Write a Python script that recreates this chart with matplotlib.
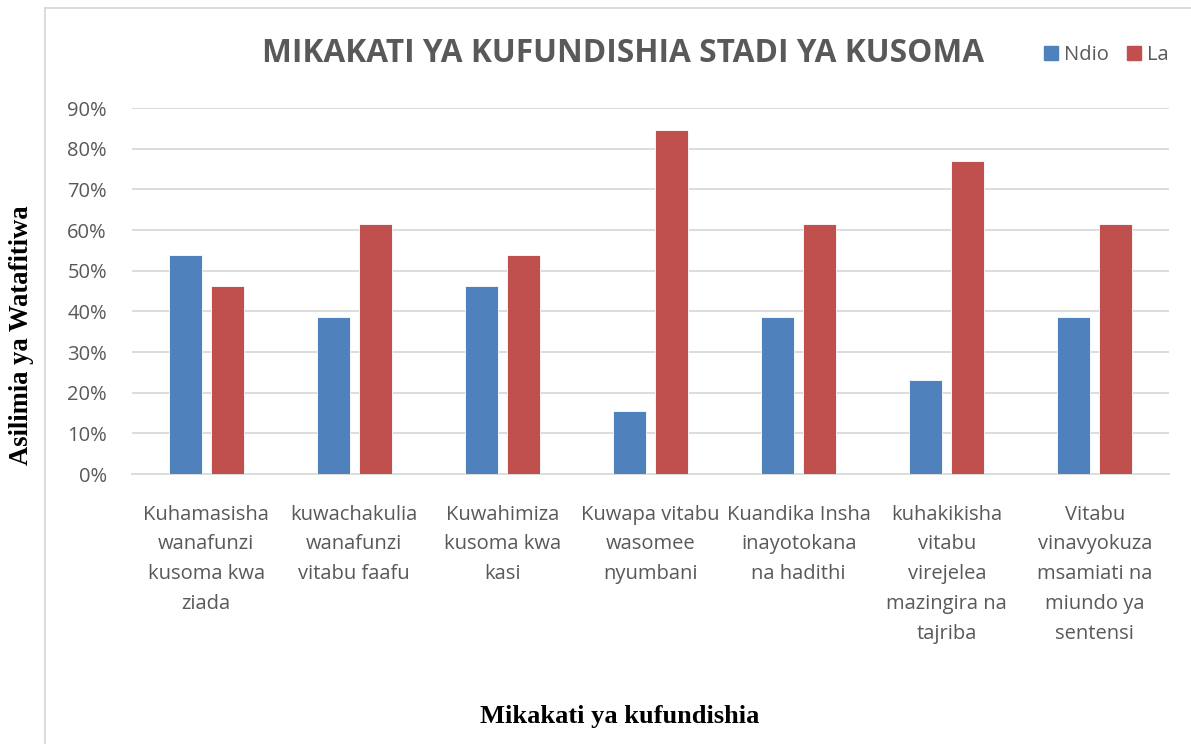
import matplotlib
matplotlib.use("Agg")
import matplotlib.pyplot as plt
import numpy as np
from matplotlib.patches import Patch
from matplotlib.lines import Line2D

categories = [
    "Kuhamasisha\nwanafunzi\nkusoma kwa\nziada",
    "kuwachakulia\nwanafunzi\nvitabu faafu",
    "Kuwahimiza\nkusoma kwa\nkasi",
    "Kuwapa vitabu\nwasomee\nnyumbani",
    "Kuandika Insha\ninayotokana\nna hadithi",
    "kuhakikisha\nvitabu\nvirejelea\nmazingira na\ntajriba",
    "Vitabu\nvinavyokuza\nmsamiati na\nmiundo ya\nsentensi",
]
ndio = [53.8, 38.5, 46.2, 15.4, 38.5, 23.1, 38.5]
la = [46.2, 61.5, 53.8, 84.6, 61.5, 76.9, 61.5]
yticks = [0, 10, 20, 30, 40, 50, 60, 70, 80, 90]
ytick_labels = [f"{v}%" for v in yticks]

BLUE = "#4F81BD"
RED = "#C0504D"
GREY = "#595959"
SANS = ["Open Sans", "DejaVu Sans"]
SERIF = ["Liberation Serif", "DejaVu Serif"]

fig = plt.figure(figsize=(11.91, 7.44), dpi=100)
ax = fig.add_axes([132 / 1191, 270 / 744, 1037 / 1191, 366 / 744])

x = np.arange(len(categories))
w = 0.223
ax.bar(x - 0.142, ndio, width=w, color=BLUE, edgecolor="#ffffff", linewidth=0.6, zorder=3)
ax.bar(x + 0.142, la, width=w, color=RED, edgecolor="#ffffff", linewidth=0.6, zorder=3)

ax.set_xlim(-0.5, len(categories) - 0.5)
ax.set_ylim(0, 90)
ax.set_yticks(yticks)
ax.set_yticklabels(ytick_labels, family=SANS, fontsize=14.5, color=GREY)
ax.set_xticks(x)
ax.set_xticklabels(categories, family=SANS, fontsize=14.5, color=GREY, linespacing=1.65)
ax.tick_params(axis="both", length=0)
ax.tick_params(axis="y", pad=18)
ax.tick_params(axis="x", pad=22)
ax.grid(axis="y", color="#d9d9d9", linewidth=1.3, zorder=0)
for s in ["top", "right", "left"]:
    ax.spines[s].set_visible(False)
ax.spines["bottom"].set_color("#d9d9d9")
ax.spines["bottom"].set_linewidth(1.3)

fig.text(623 / 1191, 1 - 53 / 744, "MIKAKATI YA KUFUNDISHIA STADI YA KUSOMA",
         family=SANS, fontsize=22.8, fontweight="bold", color=GREY, ha="center", va="center")

handles = [Patch(color=BLUE, label="Ndio"), Patch(color=RED, label="La")]
fig.legend(handles=handles, loc="center left", bbox_to_anchor=(1034 / 1191, 1 - 55 / 744),
           frameon=False, ncol=2, prop={"family": SANS, "size": 14.5},
           labelcolor=GREY, handlelength=0.7, handleheight=0.7, handletextpad=0.3,
           columnspacing=0.9, borderpad=0)

fig.text(620 / 1191, 1 - 717 / 744, "Mikakati ya kufundishia", family=SERIF,
         fontsize=19, fontweight="bold", color="black", ha="center", va="center")
fig.text(22 / 1191, 1 - 335 / 744, "Asilimia ya Watafitiwa", family=SERIF,
         fontsize=19.2, fontweight="bold", color="black", ha="center", va="center", rotation=90)

# chart border (left and top)
fig.add_artist(Line2D([45 / 1191, 45 / 1191], [0, 1 - 8 / 744], transform=fig.transFigure,
                      color="#d9d9d9", linewidth=1.3))
fig.add_artist(Line2D([45 / 1191, 1], [1 - 8 / 744, 1 - 8 / 744], transform=fig.transFigure,
                      color="#d9d9d9", linewidth=1.3))

fig.savefig("out.png", dpi=100)
